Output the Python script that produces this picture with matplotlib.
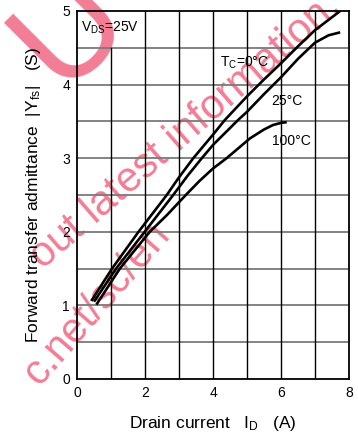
import matplotlib
matplotlib.use("Agg")
import matplotlib.pyplot as plt

plt.rcParams["font.family"] = ["Liberation Sans", "DejaVu Sans"]
plt.rcParams["mathtext.fontset"] = "custom"
plt.rcParams["mathtext.rm"] = "Liberation Sans"
plt.rcParams["mathtext.it"] = "Liberation Sans"

# |Yfs| vs ID at three case temperatures (VDS = 25 V)
id_0c = [0.42, 1.03, 1.81, 2.64, 3.0, 3.42, 4.0, 4.35, 5.0, 5.5, 6.0, 6.5, 7.0, 7.4, 7.74]
yfs_0c = [1.06, 1.50, 2.00, 2.50, 2.74, 3.00, 3.32, 3.52, 3.84, 4.07, 4.29, 4.52, 4.74, 4.88, 5.00]

id_25c = [0.50, 1.15, 1.99, 2.83, 3.25, 3.67, 4.0, 4.74, 5.0, 5.5, 6.0, 6.5, 7.0, 7.4, 7.74]
yfs_25c = [1.05, 1.50, 2.00, 2.50, 2.76, 3.00, 3.18, 3.52, 3.63, 3.87, 4.10, 4.35, 4.57, 4.67, 4.71]

id_100c = [0.57, 1.26, 2.14, 2.65, 3.2, 3.6, 4.0, 4.40, 5.09, 5.5, 5.76, 6.0, 6.17]
yfs_100c = [1.01, 1.50, 2.00, 2.23, 2.50, 2.69, 2.86, 3.00, 3.27, 3.39, 3.45, 3.48, 3.49]

x_ticks = [0, 2, 4, 6, 8]
y_ticks = [0, 1, 2, 3, 4, 5]

fig = plt.figure(figsize=(3.58, 4.37), dpi=100)
ax = fig.add_axes([77 / 358, 58 / 437, 272 / 358, 368 / 437])
ax.set_xlim(0, 8)
ax.set_ylim(0, 5)
ax.patch.set_alpha(0)

# background watermark, drawn beneath the axes
wm = dict(color="#f27d95", ha="center", va="center",
          zorder=-1, family=["Liberation Sans"])
fig.text(0.52, 0.70, "out latest information.", fontsize=30, rotation=41, **wm)
fig.text(0.27, 0.305, "c.net/sc/en", fontsize=30, rotation=49, **wm)
fig.text(0.20, 0.93, "U", fontsize=100, rotation=45, **wm)

# grid: horizontal every 0.5 (grey), vertical every 1 (black)
for yv in [0.5, 1.0, 1.5, 2.0, 2.5, 3.0, 3.5, 4.0, 4.5]:
    ax.axhline(yv, color="#7a7a7a", lw=1.3, zorder=1)
for xv in range(2, 8):
    ax.axvline(xv, color="black", lw=1.0, zorder=1)
ax.plot([1, 1], [0, 4.5], color="black", lw=1.0, zorder=1)

for sp in ax.spines.values():
    sp.set_linewidth(1.3)
    sp.set_zorder(3)

for xs, ys in [(id_0c, yfs_0c), (id_25c, yfs_25c), (id_100c, yfs_100c)]:
    ax.plot(xs, ys, color="black", lw=1.9, solid_capstyle="butt", zorder=4)

ax.set_xticks(x_ticks)
ax.set_yticks(y_ticks)
ax.tick_params(length=0, labelsize=10, pad=5)

ax.text(0.12, 4.77, r"V$_\mathregular{DS}$=25V", fontsize=10, va="center", ha="left", zorder=5)
ax.text(4.22, 4.30, r"T$_\mathregular{C}$=0°C", fontsize=10, va="center", ha="left", zorder=5)
ax.text(5.70, 3.78, "25°C", fontsize=10, va="center", ha="left", zorder=5)
ax.text(5.73, 3.24, "100°C", fontsize=10, va="center", ha="left", zorder=5)

ax.set_xlabel(r"Drain current   I$_\mathregular{D}$   (A)", fontsize=12.5, labelpad=10)
ax.set_ylabel(r"Forward transfer admittance  |Y$_\mathregular{fs}$|   (S)", fontsize=12.5, labelpad=14)

fig.savefig("out.png", dpi=100)
